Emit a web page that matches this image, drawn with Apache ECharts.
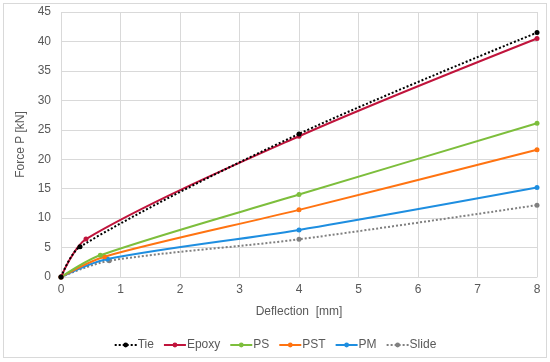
<!DOCTYPE html>
<html><head><meta charset="utf-8">
<script src="https://cdn.jsdelivr.net/npm/echarts@6/dist/echarts.min.js"></script>
<style>html,body{margin:0;padding:0;background:#fff}#c{width:550px;height:362px}
#frame{position:absolute;left:3px;top:3px;width:542px;height:353px;border:1px solid #d9d9d9;pointer-events:none}</style>
</head><body><div id="c"></div><div id="frame"></div>
<script>
var seriesNames = ["Tie", "Epoxy", "PS", "PST", "PM", "Slide"];
var tieX = [0, 0.32, 4, 8];      var tieY = [0, 5.15, 24.3, 41.5];
var epoxyX = [0, 0.42, 4, 8];    var epoxyY = [0, 6.45, 23.9, 40.5];
var psX = [0, 0.66, 4, 8];       var psY = [0, 3.7, 14.0, 26.1];
var pstX = [0, 0.73, 4, 8];      var pstY = [0, 3.45, 11.4, 21.6];
var pmX = [0, 0.78, 4, 8];       var pmY = [0, 3.05, 8.0, 15.2];
var slideX = [0, 0.81, 4, 8];    var slideY = [0, 2.77, 6.4, 12.2];
var xTicks = [0, 1, 2, 3, 4, 5, 6, 7, 8];
var yTicks = [0, 5, 10, 15, 20, 25, 30, 35, 40, 45];

var colors = ["#000000", "#C0143C", "#7DBE3C", "#FF7311", "#1E8EE0", "#808080"];
var dashed = [true, false, false, false, false, true];
var xs = [tieX, epoxyX, psX, pstX, pmX, slideX];
var ys = [tieY, epoxyY, psY, pstY, pmY, slideY];

function pairs(x, y){ return x.map(function(v,i){return [v, y[i]];}); }

var txt = {color:'#595959', fontFamily:'Liberation Sans, Arial, sans-serif', fontSize:12};
var series = seriesNames.map(function(n, i){
  return {
    name: n, type: 'line', data: pairs(xs[i], ys[i]),
    smooth: 0.3,
    symbol: 'circle', symbolSize: 5, showSymbol: true,
    lineStyle: {color: colors[i], width: 2, type: dashed[i] ? [2, 2] : 'solid'},
    itemStyle: {color: colors[i]},
    z: 10 - i
  };
});

var chart = echarts.init(document.getElementById('c'), null, {renderer:'canvas'});
chart.setOption({
  animation: false,
  grid: {left: 61, right: 13, top: 12, bottom: 85, containLabel: false},
  legend: {
    bottom: 6, left: 'center', itemWidth: 22, itemHeight: 6, itemGap: 9,
    textStyle: {color:'#595959', fontFamily:'Liberation Sans, Arial, sans-serif', fontSize:12, padding:[0,0,0,-4]},
    data: seriesNames
  },
  xAxis: {
    type: 'value', min: xTicks[0], max: xTicks[xTicks.length-1], interval: 1,
    name: 'Deflection  [mm]', nameLocation: 'middle', nameGap: 29, nameTextStyle: txt,
    axisLine: {show: true, lineStyle: {color: '#d9d9d9'}},
    axisTick: {show: false},
    axisLabel: Object.assign({margin: 7}, txt),
    splitLine: {show: true, lineStyle: {color: '#d9d9d9', width: 1}}
  },
  yAxis: {
    type: 'value', min: yTicks[0], max: yTicks[yTicks.length-1], interval: 5,
    name: 'Force P [kN]', nameLocation: 'middle', nameGap: 30, nameTextStyle: txt,
    axisLine: {show: false},
    axisTick: {show: false},
    axisLabel: Object.assign({margin: 10}, txt),
    splitLine: {show: true, lineStyle: {color: '#d9d9d9', width: 1}}
  },
  series: series
});
</script></body></html>
